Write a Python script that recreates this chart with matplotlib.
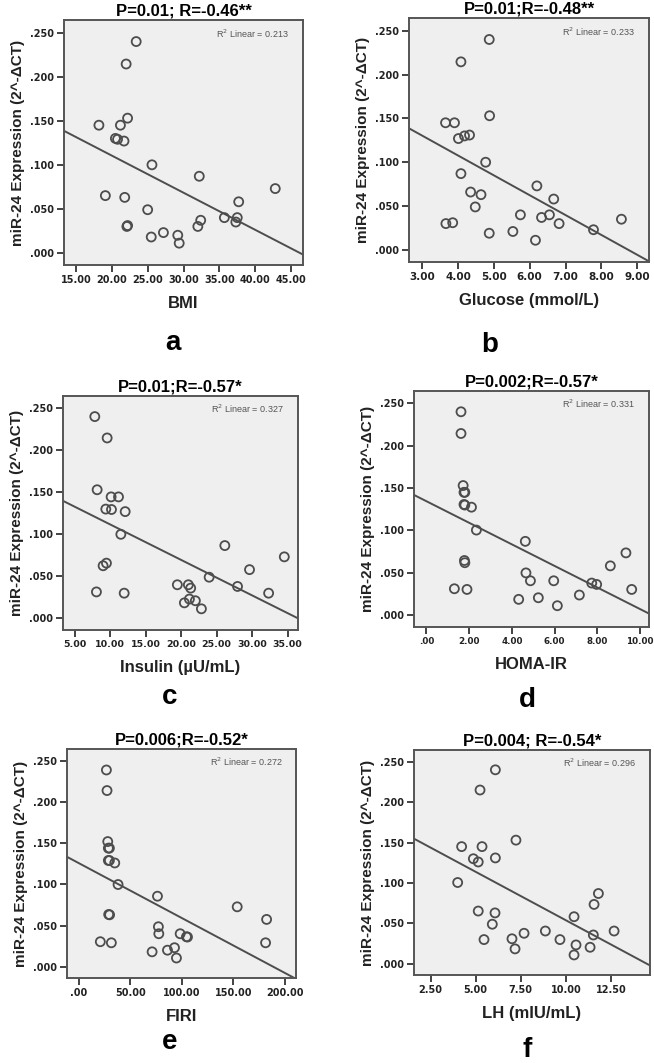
import numpy as np
import matplotlib
matplotlib.use('Agg')
import matplotlib.pyplot as plt
from matplotlib.ticker import FuncFormatter

# ---- data ----
bmi = [23.4, 22.0, 22.2, 18.2, 21.2, 20.5, 20.8, 21.7, 25.6, 32.2, 19.1, 21.8, 42.8,
       37.7, 25.0, 32.4, 32.0, 35.7, 37.5, 37.3, 22.2, 22.1, 25.5, 27.2, 29.2, 29.4]
bmi_expr = [0.240, 0.2145, 0.153, 0.145, 0.145, 0.130, 0.129, 0.127, 0.100, 0.087, 0.065, 0.063, 0.073,
            0.058, 0.049, 0.037, 0.030, 0.040, 0.040, 0.035, 0.031, 0.030, 0.018, 0.023, 0.020, 0.011]

glucose = [4.87, 4.08, 4.88, 3.65, 3.90, 4.01, 4.18, 4.32, 4.77, 4.08, 4.35, 4.64, 4.48, 6.20,
           6.67, 5.74, 6.33, 6.55, 6.82, 3.66, 3.85, 4.87, 5.53, 6.16, 7.78, 8.56]
glucose_expr = [0.240, 0.2145, 0.153, 0.145, 0.145, 0.127, 0.130, 0.131, 0.100, 0.087, 0.066, 0.063, 0.049, 0.073,
                0.058, 0.040, 0.037, 0.040, 0.030, 0.030, 0.031, 0.019, 0.021, 0.011, 0.023, 0.035]

insulin = [7.83, 9.57, 8.16, 10.13, 11.17, 9.38, 10.18, 12.11, 11.5, 26.15, 34.53, 29.63, 9.0,
           9.47, 23.94, 19.46, 21.01, 21.34, 27.94, 32.32, 8.06, 11.97, 20.45, 21.16, 22.0, 22.85]
insulin_expr = [0.240, 0.2146, 0.153, 0.1445, 0.1445, 0.130, 0.1295, 0.127, 0.100, 0.0866, 0.0732, 0.058, 0.0626,
                0.0657, 0.049, 0.040, 0.040, 0.036, 0.038, 0.030, 0.0315, 0.030, 0.0185, 0.023, 0.021, 0.0114]

homa = [1.62, 1.62, 1.72, 1.76, 1.80, 1.76, 1.80, 2.11, 2.34, 4.63, 1.78, 1.80, 9.34, 8.61, 4.66,
        4.87, 5.96, 7.74, 7.97, 9.61, 1.31, 1.90, 4.32, 5.24, 7.16, 6.13]
homa_expr = [0.240, 0.2144, 0.153, 0.145, 0.145, 0.1307, 0.130, 0.1275, 0.1005, 0.0872, 0.0646, 0.062, 0.0736, 0.0583, 0.050,
             0.0407, 0.0407, 0.038, 0.0364, 0.0305, 0.0313, 0.0305, 0.0188, 0.0207, 0.0239, 0.0113]

firi = [26.9, 27.5, 28.2, 28.8, 29.8, 28.8, 29.8, 35.0, 38.2, 76.4, 29.1, 30.0, 153.7, 182.2, 77.3,
        77.7, 98.4, 104.5, 105.5, 21.0, 31.7, 181.2, 71.2, 86.1, 92.9, 94.8]
firi_expr = [0.239, 0.214, 0.152, 0.144, 0.144, 0.129, 0.129, 0.126, 0.0998, 0.0856, 0.0634, 0.063, 0.0727, 0.0574, 0.0485,
             0.040, 0.040, 0.0363, 0.036, 0.0303, 0.029, 0.029, 0.018, 0.020, 0.023, 0.0105]

lh = [6.09, 5.24, 7.23, 4.22, 5.35, 4.87, 5.14, 6.09, 4.0, 11.80, 11.56, 10.45, 5.14,
      6.07, 5.92, 7.68, 8.86, 12.67, 11.52, 5.46, 7.01, 9.67, 10.56, 11.34, 7.18, 10.45]
lh_expr = [0.240, 0.215, 0.153, 0.145, 0.145, 0.130, 0.126, 0.131, 0.1006, 0.087, 0.0735, 0.0583, 0.0653,
           0.063, 0.049, 0.0378, 0.0406, 0.0406, 0.0357, 0.030, 0.031, 0.030, 0.0234, 0.0205, 0.0185, 0.011]

titles = ['P=0.01; R=-0.46**', 'P=0.01;R=-0.48**', 'P=0.01;R=-0.57*',
          'P=0.002;R=-0.57*', 'P=0.006;R=-0.52*', 'P=0.004; R=-0.54*']
xlabels = ['BMI', 'Glucose (mmol/L)', 'Insulin (\u00b5U/mL)', 'HOMA-IR', 'FIRI', 'LH (mIU/mL)']
r2_texts = ['0.213', '0.233', '0.327', '0.331', '0.272', '0.296']
letters = ['a', 'b', 'c', 'd', 'e', 'f']
xticks = [[15, 20, 25, 30, 35, 40, 45], [3, 4, 5, 6, 7, 8, 9], [5, 10, 15, 20, 25, 30, 35],
          [0, 2, 4, 6, 8, 10], [0, 50, 100, 150, 200], [2.5, 5, 7.5, 10, 12.5]]
xlims = [(13.33, 46.67), (2.63, 9.33), (3.35, 36.46), (-0.58, 10.42), (-11.3, 210.7), (1.58, 14.66)]
yticks = [0.0, 0.05, 0.10, 0.15, 0.20, 0.25]
xs = [bmi, glucose, insulin, homa, firi, lh]
ys = [bmi_expr, glucose_expr, insulin_expr, homa_expr, firi_expr, lh_expr]

W, H = 654, 1063
# axes boxes in pixels: left, right, top, bottom
boxes = [(64, 303, 20, 265), (409, 649, 18, 262), (63, 298, 396, 630),
         (414, 649, 391, 627), (67, 296, 749, 978), (414, 650, 750, 975)]
letter_pos = [(173, 343), (490, 345), (170, 697), (527, 700), (170, 1042), (527, 1050)]
xtick_size = [7, 7.5, 6.8, 6.3, 7, 7]

fig = plt.figure(figsize=(W / 100, H / 100), dpi=100)
fig.patch.set_facecolor('white')

bold_sans = ['Liberation Sans', 'DejaVu Sans']
dark = '#4d4d4d'


def fmt_num(v, pos):
    s = '%.3f' % v
    return s[1:] if s.startswith('0') else s


def fmt_x(v, pos):
    s = '%.2f' % v
    return s[1:] if s.startswith('0') else s


for i in range(6):
    l, r, t, b = boxes[i]
    ax = fig.add_axes([l / W, 1 - b / H, (r - l) / W, (b - t) / H])
    ax.set_facecolor('#efefef')
    x = np.array(xs[i])
    y = np.array(ys[i])
    ax.scatter(x, y, s=42, facecolors='none', edgecolors=dark, linewidths=1.3, zorder=3)

    # least-squares fit line across the axis
    k, c = np.polyfit(x, y, 1)
    xl = np.array(xlims[i])
    ax.plot(xl, k * xl + c, color=dark, lw=1.4, zorder=2)

    ax.set_xlim(xlims[i])
    ax.set_ylim(-0.0138, 0.2645)
    ax.set_xticks(xticks[i])
    ax.set_yticks(yticks)
    ax.xaxis.set_major_formatter(FuncFormatter(fmt_x))
    ax.yaxis.set_major_formatter(FuncFormatter(fmt_num))
    ax.tick_params(direction='out', length=5, width=1.2, color='#222222', labelsize=7, pad=2)
    ax.tick_params(axis='x', labelsize=xtick_size[i])
    for lab in ax.get_xticklabels() + ax.get_yticklabels():
        lab.set_fontweight('bold')
        lab.set_family('DejaVu Sans')
        lab.set_color('#222222')
    for sp in ax.spines.values():
        sp.set_color('#555555')
        sp.set_linewidth(1.4)

    ax.set_title(titles[i], fontsize=12, fontweight='bold', family=bold_sans, pad=3)
    ax.set_xlabel(xlabels[i], fontsize=12, fontweight='bold', family=bold_sans, labelpad=8, color='#222222')
    ax.set_ylabel('miR-24 Expression (2^-\u0394CT)', fontsize=11, fontweight='bold', family=bold_sans,
                  labelpad=4, color='#222222')
    ax.text(0.94, 0.945, 'R$^2$ Linear = ' + r2_texts[i], transform=ax.transAxes, ha='right', va='center',
            fontsize=6.5, color='#555555', family=bold_sans)

    lx, ly = letter_pos[i]
    fig.text(lx / W, 1 - ly / H, letters[i], ha='center', va='center', fontsize=20,
             fontweight='bold', family=bold_sans)

plt.savefig('out.png', dpi=100)
